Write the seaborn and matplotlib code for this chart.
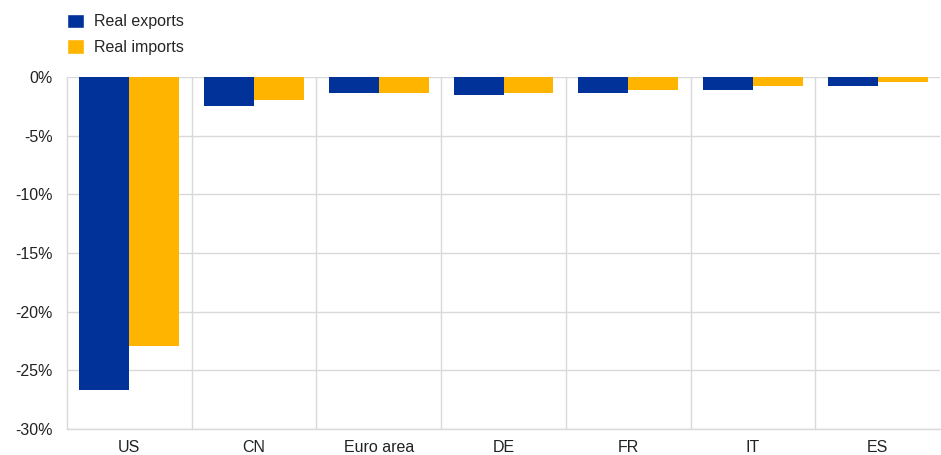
import matplotlib
matplotlib.use("Agg")
import matplotlib.pyplot as plt
import seaborn as sns
import pandas as pd
from matplotlib.ticker import FuncFormatter, FixedLocator
from matplotlib.patches import Patch

categories = ["US", "CN", "Euro area", "DE", "FR", "IT", "ES"]
real_exports = [-26.7, -2.45, -1.4, -1.5, -1.35, -1.15, -0.75]
real_imports = [-22.9, -2.0, -1.4, -1.37, -1.1, -0.77, -0.43]
series_names = ["Real exports", "Real imports"]
colors = ["#003299", "#FFB400"]

df = pd.DataFrame({
    "cat": categories * 2,
    "val": real_exports + real_imports,
    "series": [series_names[0]] * len(categories) + [series_names[1]] * len(categories),
})

sns.set_theme(style="white")
plt.rcParams["font.family"] = ["Liberation Sans", "DejaVu Sans"]

fig = plt.figure(figsize=(9.41, 4.55), dpi=100)
ax = fig.add_axes([0.0712, 0.0571, 0.9278, 0.7737])

sns.barplot(data=df, x="cat", y="val", hue="series", palette=colors,
            saturation=1, width=0.8, dodge=True, ax=ax, legend=False,
            linewidth=0, order=categories, hue_order=series_names)

ax.set_ylim(-30, 0)
ax.set_xlim(-0.5, len(categories) - 0.5)
ax.set_yticks(range(-30, 1, 5))
ax.yaxis.set_major_formatter(FuncFormatter(lambda v, p: f"{int(v)}%"))
ax.xaxis.set_minor_locator(FixedLocator([i + 0.5 for i in range(len(categories) - 1)]))
ax.grid(axis="y", color="#d9d9d9", linewidth=1)
ax.grid(axis="x", which="minor", color="#d9d9d9", linewidth=1)
ax.set_axisbelow(True)
for s in ["top", "right"]:
    ax.spines[s].set_visible(False)
for s in ["left", "bottom"]:
    ax.spines[s].set_color("#d9d9d9")
    ax.spines[s].set_linewidth(1)
ax.tick_params(axis="both", which="both", length=0, labelsize=11.5, colors="#222222", pad=8)
ax.tick_params(axis="y", pad=10)
ax.set_xlabel("")
ax.set_ylabel("")

handles = [Patch(facecolor=c, label=n) for c, n in zip(colors, series_names)]
fig.legend(handles=handles, loc="upper left", bbox_to_anchor=(0.06, 0.993),
           frameon=False, fontsize=11.5, handlelength=1.05, handleheight=1.05,
           handletextpad=0.65, labelspacing=0.6, borderaxespad=0.25)

fig.savefig("out.png", dpi=100)
